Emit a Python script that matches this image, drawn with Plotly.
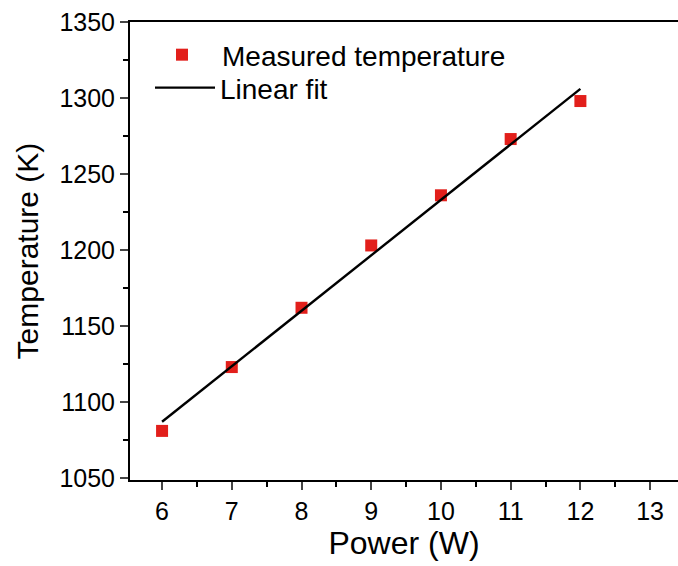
import plotly.graph_objects as go

power = [6, 7, 8, 9, 10, 11, 12]
temperature = [1081, 1123, 1162, 1203, 1236, 1273, 1298]
fit_power = [6, 12]
fit_temperature = [1087, 1306]

x_ticks = [6, 7, 8, 9, 10, 11, 12, 13]
y_ticks = [1050, 1100, 1150, 1200, 1250, 1300, 1350]

FONT = "Liberation Sans, Arial, sans-serif"

fig = go.Figure()
fig.add_trace(go.Scatter(
    x=power, y=temperature, mode="markers", name="Measured temperature",
    marker=dict(symbol="square", size=12, color="#e21f1b", line=dict(width=0)),
    legend="legend",
))
fig.add_trace(go.Scatter(
    x=fit_power, y=fit_temperature, mode="lines", name="Linear fit",
    line=dict(color="black", width=2.4),
    legend="legend2",
))

fig.update_layout(
    width=678, height=566,
    margin=dict(l=130, r=0, t=22, b=86),
    paper_bgcolor="white", plot_bgcolor="white",
    font=dict(family=FONT, size=25, color="black"),
    showlegend=True,
    legend=dict(x=0.0219, y=0.928, xanchor="left", yanchor="middle",
                bgcolor="rgba(0,0,0,0)", font=dict(size=28), itemwidth=70),
    legend2=dict(x=0.0365, y=0.856, xanchor="left", yanchor="middle",
                 bgcolor="rgba(0,0,0,0)", font=dict(size=28), itemwidth=60),
)
fig.update_xaxes(
    range=[5.54, 13.4], tickvals=x_ticks, ticks="outside", ticklen=8, tickwidth=2,
    showline=True, linewidth=2, linecolor="black", mirror=True, showgrid=False,
    zeroline=False, tickfont=dict(size=25),
    minor=dict(dtick=0.5, tick0=5.5, ticks="outside", ticklen=5, tickwidth=2, tickcolor="black"),
    title=dict(text="Power (W)", font=dict(size=32), standoff=5),
)
fig.update_yaxes(
    range=[1048.7, 1350], tickvals=y_ticks, ticks="outside", ticklen=8, tickwidth=2,
    showline=True, linewidth=2, linecolor="black", showgrid=False,
    zeroline=False, tickfont=dict(size=25),
    minor=dict(dtick=25, tick0=1050, ticks="outside", ticklen=5, tickwidth=2, tickcolor="black"),
    title=dict(text="Temperature (K)", font=dict(size=30), standoff=12),
)

fig.write_html("out.html", config={"displayModeBar": False},
               post_script="document.body.style.margin='0';")
